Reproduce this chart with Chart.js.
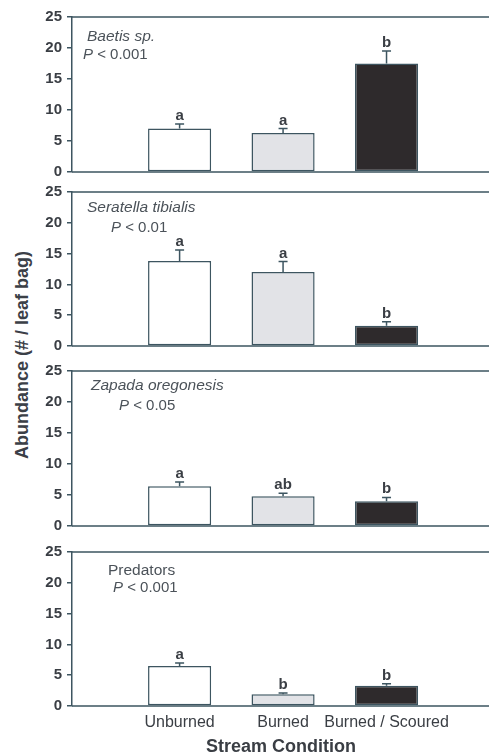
<!DOCTYPE html>
<html>
<head>
<meta charset="utf-8">
<script src="https://cdn.jsdelivr.net/npm/chart.js@4/dist/chart.umd.min.js"></script>
<style>
  html, body { margin: 0; padding: 0; background: #ffffff; width: 489px; height: 756px; overflow: hidden; position: relative; }
  canvas.panel { position: absolute; left: 0; }
  #ytitle {
    position: absolute; left: 22px; top: 355px;
    transform: translate(-50%, -50%) rotate(-90deg);
    font: bold 18px "Liberation Sans", Arial, sans-serif;
    color: #3b4047; white-space: nowrap;
  }
</style>
</head>
<body>
<div id="ytitle">Abundance (# / leaf bag)</div>
<script>
// Stream conditions on the x axis
const conditions = ['Unburned', 'Burned', 'Burned / Scoured'];

// Mean abundance (# / leaf bag) and standard errors for each taxon
const baetisMean     = [7.0, 6.3, 17.5];
const baetisSE       = [0.75, 0.7, 2.0];
const seratellaMean  = [13.8, 12.0, 3.3];
const seratellaSE    = [1.8, 1.7, 0.65];
const zapadaMean     = [6.4, 4.8, 4.0];
const zapadaSE       = [0.7, 0.5, 0.6];
const predatorMean   = [6.5, 1.9, 3.3];
const predatorSE     = [0.5, 0.2, 0.3];

// Significance groupings above each bar
const baetisGroups    = ['a', 'a', 'b'];
const seratellaGroups = ['a', 'a', 'b'];
const zapadaGroups    = ['a', 'ab', 'b'];
const predatorGroups  = ['a', 'b', 'b'];

// Panel captions
const taxonNames = ['Baetis sp.', 'Seratella tibialis', 'Zapada oregonesis', 'Predators'];
const pValues    = ['< 0.001', '< 0.01', '< 0.05', '< 0.001'];

// y axis
const yMin = 0, yMax = 25, yStep = 5;

// ---- styling / layout ----
const FONT = '"Liberation Sans", Arial, sans-serif';
const LINE = '#3d5560';
const TEXT = '#3a3e44';
const CAPTION = '#4b5259';
const barFills = ['#ffffff', '#e2e3e7', '#2e2a2c'];

const panels = [
  { mean: baetisMean,    se: baetisSE,    groups: baetisGroups,    name: taxonNames[0], italic: true,  p: pValues[0],
    areaTop: 15,  areaBottom: 172, nameAt: [15, 20], pAt: [11, 38] },
  { mean: seratellaMean, se: seratellaSE, groups: seratellaGroups, name: taxonNames[1], italic: true,  p: pValues[1],
    areaTop: 190, areaBottom: 346, nameAt: [15, 16], pAt: [39, 36] },
  { mean: zapadaMean,    se: zapadaSE,    groups: zapadaGroups,    name: taxonNames[2], italic: true,  p: pValues[2],
    areaTop: 369, areaBottom: 526, nameAt: [19, 15], pAt: [47, 35] },
  { mean: predatorMean,  se: predatorSE,  groups: predatorGroups,  name: taxonNames[3], italic: false, p: pValues[3],
    areaTop: 550, areaBottom: 706, nameAt: [36, 19], pAt: [41, 36] }
];

// margins around each plotting area (the bottom one leaves room for the last tick label)
const PAD_TOP = 12, BOTTOM_MARGIN = 15, X_AXIS_H = 50, CANVAS_W = 490;
const X_MIN = -0.04, X_MAX = 4;

// Upper standard-error whiskers plus the grouping letters
const errorBarPlugin = {
  id: 'errorBars',
  afterDatasetsDraw(chart, args, opts) {
    const { ctx } = chart;
    const ys = chart.scales.y;
    const meta = chart.getDatasetMeta(0);
    meta.data.forEach((bar, i) => {
      const top = ys.getPixelForValue(opts.mean[i] + opts.se[i]);
      ctx.save();
      ctx.strokeStyle = LINE;
      ctx.lineWidth = 1.5;
      ctx.beginPath();
      ctx.moveTo(bar.x, bar.y);
      ctx.lineTo(bar.x, top);
      ctx.moveTo(bar.x - 4.5, top);
      ctx.lineTo(bar.x + 4.5, top);
      ctx.stroke();
      ctx.fillStyle = TEXT;
      ctx.font = 'bold 15px ' + FONT;
      ctx.textAlign = 'center';
      ctx.textBaseline = 'alphabetic';
      ctx.fillText(opts.groups[i], bar.x, top - 4);
      ctx.restore();
    });
  }
};

// Box lines along the top, bottom and right of the plotting area
const framePlugin = {
  id: 'frame',
  afterDatasetsDraw(chart) {
    const { ctx, chartArea: a } = chart;
    ctx.save();
    ctx.strokeStyle = LINE;
    ctx.lineWidth = 1.5;
    ctx.beginPath();
    ctx.moveTo(a.left, a.top); ctx.lineTo(a.right, a.top);
    ctx.moveTo(a.left, a.bottom); ctx.lineTo(a.right, a.bottom);
    ctx.moveTo(a.right, a.top); ctx.lineTo(a.right, a.bottom);
    ctx.stroke();
    ctx.restore();
  }
};

// Taxon name and P value in the upper-left corner
const captionPlugin = {
  id: 'caption',
  afterDraw(chart, args, opts) {
    const { ctx, chartArea: a } = chart;
    ctx.save();
    ctx.fillStyle = CAPTION;
    ctx.textBaseline = 'middle';
    ctx.textAlign = 'left';
    ctx.font = (opts.italic ? 'italic ' : '') + '15.5px ' + FONT;
    ctx.fillText(opts.name, a.left + opts.nameAt[0], a.top + opts.nameAt[1]);
    let x = a.left + opts.pAt[0];
    const y = a.top + opts.pAt[1];
    ctx.font = 'italic 15px ' + FONT;
    ctx.fillText('P', x, y);
    x += ctx.measureText('P ').width;
    ctx.font = '15px ' + FONT;
    ctx.fillText(opts.p, x, y);
    ctx.restore();
  }
};

panels.forEach((p, idx) => {
  const last = idx === panels.length - 1;
  const canvas = document.createElement('canvas');
  canvas.className = 'panel';
  const top = p.areaTop - PAD_TOP;
  const h = (p.areaBottom - p.areaTop) + PAD_TOP + (last ? X_AXIS_H : BOTTOM_MARGIN);
  canvas.width = CANVAS_W;
  canvas.height = h;
  canvas.style.top = top + 'px';
  canvas.style.width = CANVAS_W + 'px';
  canvas.style.height = h + 'px';
  document.body.appendChild(canvas);

  new Chart(canvas, {
    type: 'bar',
    data: {
      datasets: [{
        data: p.mean.map((v, i) => ({ x: i + 1, y: v })),
        backgroundColor: barFills,
        borderColor: LINE,
        borderWidth: 1.5,
        borderSkipped: false,
        barPercentage: 0.61,
        categoryPercentage: 1.0
      }]
    },
    options: {
      responsive: false,
      animation: false,
      devicePixelRatio: 1,
      layout: { padding: { top: PAD_TOP, bottom: last ? 0 : BOTTOM_MARGIN, left: 0, right: 0 } },
      plugins: {
        legend: { display: false },
        tooltip: { enabled: false },
        errorBars: { mean: p.mean, se: p.se, groups: p.groups },
        caption: { name: p.name, italic: p.italic, p: p.p, nameAt: p.nameAt, pAt: p.pAt }
      },
      scales: {
        x: {
          type: 'linear',
          display: last,
          offset: false,
          min: X_MIN,
          max: X_MAX,
          bounds: 'data',
          grid: { display: false, drawTicks: false },
          border: { display: false },
          afterBuildTicks: (s) => { s.ticks = conditions.map((c, i) => ({ value: i + 1 })); },
          ticks: {
            autoSkip: false,
            maxRotation: 0,
            padding: 7,
            color: TEXT,
            font: { family: FONT, size: 16 },
            callback: (v) => conditions[Math.round(v) - 1] || ''
          },
          title: {
            display: true,
            text: 'Stream Condition',
            color: TEXT,
            font: { family: FONT, size: 18, weight: 'bold', lineHeight: 1 },
            padding: { top: 0, bottom: 0 }
          },
          afterFit: (s) => { if (last) s.height = X_AXIS_H; }
        },
        y: {
          min: yMin,
          max: yMax,
          ticks: {
            stepSize: yStep,
            autoSkip: false,
            padding: 5,
            color: TEXT,
            font: { family: FONT, size: 15, weight: 'bold' }
          },
          grid: { drawOnChartArea: false, drawTicks: true, tickLength: 5, color: LINE, lineWidth: 1.5 },
          border: { display: true, color: LINE, width: 1.5 },
          afterFit: (s) => { s.width = 72; }
        }
      }
    },
    plugins: [framePlugin, errorBarPlugin, captionPlugin]
  });
});
</script>
</body>
</html>
